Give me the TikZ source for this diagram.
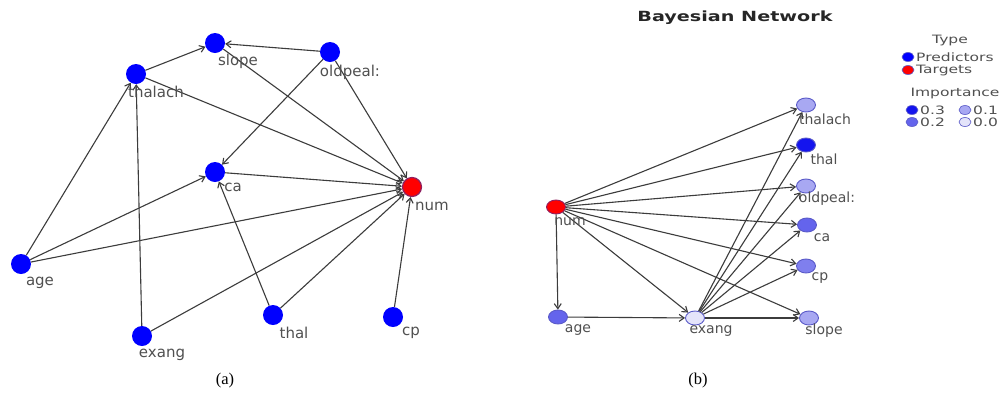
\documentclass[tikz,border=0pt]{standalone}
\usepackage{fontspec}
\setmainfont{Liberation Serif}
\newfontfamily\labfont{DejaVu Sans}
\usetikzlibrary{arrows.meta,shapes.geometric}
\definecolor{edgec}{HTML}{3C3C3C}
\definecolor{labc}{HTML}{505050}
\definecolor{impA}{HTML}{1414EE}
\definecolor{impB}{HTML}{6464EC}
\definecolor{impC}{HTML}{A8A8F2}
\definecolor{impD}{HTML}{E4E4FA}
\definecolor{ringc}{HTML}{5A5AC8}
\definecolor{redring}{HTML}{902060}
\newcommand{\wide}[1]{\scalebox{1.35}[1]{#1}}
\tikzset{
  anode/.style={circle,fill=blue,draw=none,minimum size=20pt,inner sep=0pt},
  atarget/.style={circle,fill=red,draw=redring,line width=1.2pt,minimum size=19pt,inner sep=0pt},
  bnode/.style={ellipse,fill=#1,draw=ringc,line width=0.9pt,minimum width=19pt,minimum height=14pt,inner sep=0pt},
  btarget/.style={ellipse,fill=red,draw=redring,line width=0.9pt,minimum width=19pt,minimum height=14pt,inner sep=0pt},
  alab/.style={text=labc,font=\labfont\fontsize{15}{15}\selectfont,inner sep=0pt},
  blab/.style={text=labc,font=\labfont\fontsize{14}{14}\selectfont,inner sep=0pt},
  leg/.style={text=labc,font=\labfont\fontsize{11.5}{11.5}\selectfont,inner sep=0pt,anchor=west},
  legdot/.style={ellipse,fill=#1,draw=ringc,line width=0.6pt,minimum width=12pt,minimum height=9pt,inner sep=0pt},
  edge/.style={draw=edgec,line width=1.1pt,-{Straight Barb[length=5pt,width=7pt]}},
  captext/.style={font=\fontsize{16.5}{16.5}\selectfont,inner sep=0pt}
}
\begin{document}
\begin{tikzpicture}[x=1pt,y=-1pt]
\useasboundingbox[fill=white] (0,0) rectangle (1002,392);
% ---------- panel (a) ----------
\node[anode] (aslope) at (215,43) {};
\node[anode] (athalach) at (136,74) {};
\node[anode] (aold) at (330,52) {};
\node[anode] (aca) at (215,172) {};
\node[atarget] (anum) at (412,187) {};
\node[anode] (aage) at (21,264) {};
\node[anode] (aexang) at (142,336) {};
\node[anode] (athal) at (273,315) {};
\node[anode] (acp) at (393,317) {};
\draw[edge] (athalach) -- (aslope);
\draw[edge] (aold) -- (aslope);
\draw[edge] (aslope) -- (anum);
\draw[edge] (aold) -- (aca);
\draw[edge] (aold) -- (anum);
\draw[edge] (athalach) -- (anum);
\draw[edge] (aca) -- (anum);
\draw[edge] (aage) -- (athalach);
\draw[edge] (aexang) -- (athalach);
\draw[edge] (aage) -- (aca);
\draw[edge] (aage) -- (anum);
\draw[edge] (aexang) -- (anum);
\draw[edge] (athal) -- (aca);
\draw[edge] (athal) -- (anum);
\draw[edge] (acp) -- (anum);
\node[alab] (lslope) at (238,61) {slope};
\node[alab] (lthalach) at (156,92) {thalach};
\node[alab] (lold) at (350,72) {oldpeal:};
\node[alab] (lca) at (233,187) {ca};
\node[alab] (lnum) at (432,206) {num};
\node[alab] (lage) at (40,283) {age};
\node[alab] (lexang) at (162,355) {exang};
\node[alab] (lthal) at (294,333) {thal};
\node[alab] (lcp) at (411,333) {cp};
\node[captext] (capa) at (225,381) {(a)};
% ---------- panel (b) ----------
\node[btarget] (bnum) at (556,207) {};
\node[bnode=impC] (bthalach) at (806,105) {};
\node[bnode=impA] (bthal) at (806,145) {};
\node[bnode=impC] (bold) at (806,186) {};
\node[bnode=impB] (bca) at (807,225) {};
\node[bnode=impB!60!impC] (bcp) at (806,266) {};
\node[bnode=impC] (bslope) at (809,318) {};
\node[bnode=impB] (bage) at (558,317) {};
\node[bnode=impD] (bexang) at (695,318) {};
\foreach \t in {bthalach,bthal,bold,bca,bcp,bslope,bexang,bage}
  \draw[edge] (bnum) -- (\t);
\draw[edge] (bage) -- (bexang);
\foreach \t in {bthalach,bthal,bold,bca,bcp,bslope}
  \draw[edge] (bexang) -- (\t);
\node[blab] (mnum) at (570,222) {num};
\node[blab] (mthalach) at (825,119) {thalach};
\node[blab] (mthal) at (824,159) {thal};
\node[blab] (mold) at (827,199) {oldpeal:};
\node[blab] (mca) at (822,238) {ca};
\node[blab] (mcp) at (820,278) {cp};
\node[blab] (mslope) at (824,331) {slope};
\node[blab] (mage) at (578,330) {age};
\node[blab] (mexang) at (711,331) {exang};
\node[captext] (capb) at (698,381) {(b)};
\node[text=black!85,inner sep=0pt,font=\labfont\bfseries\fontsize{14}{14}\selectfont] (title) at (735,18) {\scalebox{1.37}[1]{Bayesian Network}};
% ---------- legend ----------
\node[leg,anchor=center] (ltype) at (950,40) {\wide{Type}};
\node[legdot=blue] (dpred) at (908,57) {};
\node[leg] (tpred) at (916,57) {\wide{Predictors}};
\node[legdot=red] (dtarg) at (908,70) {};
\node[leg] (ttarg) at (916,70) {\wide{Targets}};
\node[leg,anchor=center] (limp) at (955,93) {\wide{Importance}};
\node[legdot=impA] (d3) at (912,110) {};
\node[leg] (t3) at (920,110) {\wide{0.3}};
\node[legdot=impC] (d1) at (965,110) {};
\node[leg] (t1) at (973,110) {\wide{0.1}};
\node[legdot=impB] (d2) at (912,122) {};
\node[leg] (t2) at (920,122) {\wide{0.2}};
\node[legdot=impD] (d0) at (965,122) {};
\node[leg] (t0) at (973,122) {\wide{0.0}};
\end{tikzpicture}
\end{document}
